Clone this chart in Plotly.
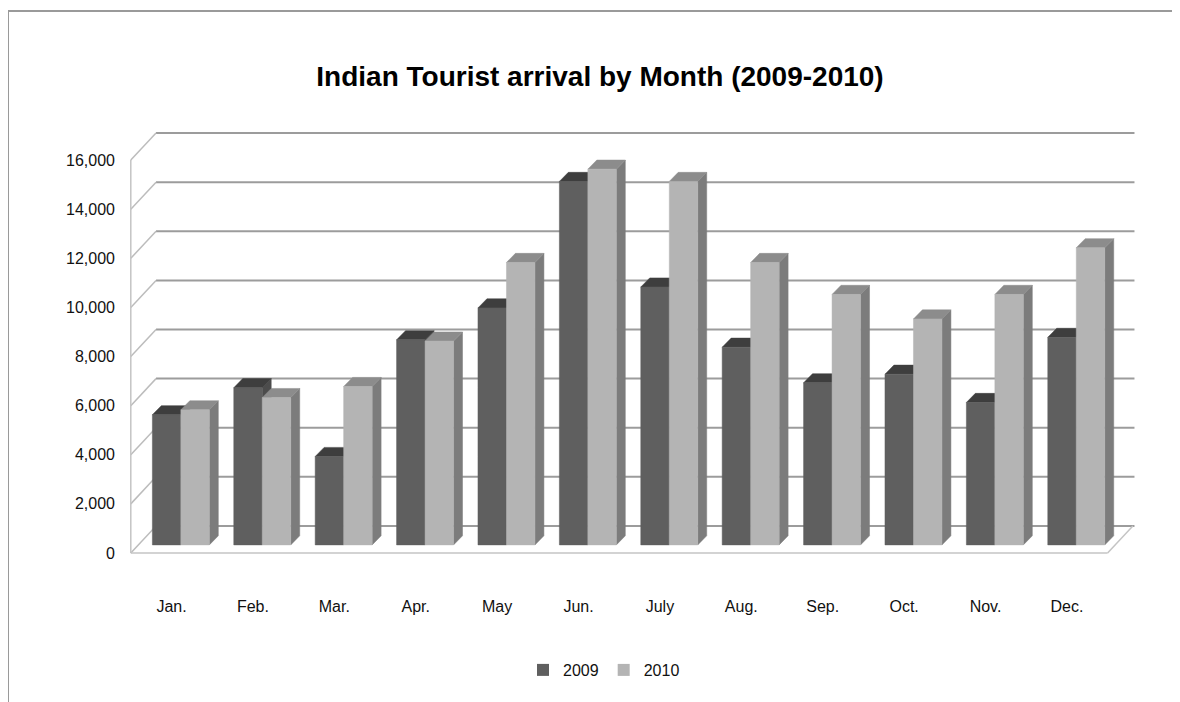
import plotly.graph_objects as go

# ---------------- data ----------------
months = ["Jan.", "Feb.", "Mar.", "Apr.", "May", "Jun.", "July", "Aug.", "Sep.", "Oct.", "Nov.", "Dec."]
arrivals_2009 = [5300, 6400, 3600, 8350, 9650, 14800, 10500, 8050, 6600, 6950, 5800, 8450]
arrivals_2010 = [5500, 6000, 6450, 8300, 11500, 15300, 14800, 11500, 10200, 9200, 10200, 12100]
y_ticks = [0, 2000, 4000, 6000, 8000, 10000, 12000, 14000, 16000]
series_names = ["2009", "2010"]

# ---------------- style / geometry (axis units) ----------------
FONT = "Liberation Sans Narrow, Arial Narrow, Liberation Sans, Arial, sans-serif"
front_colors = ["#5f5f5f", "#b4b4b4"]
cap_colors = ["#3e3e3e", "#8c8c8c"]
side_colors = ["#4c4c4c", "#7c7c7c"]

X0, X1 = -0.5, 11.5            # front plane extent
WALL_DX, WALL_DY = 0.31, 1100  # back wall offset (perspective)
BAR_DX, BAR_DY = 0.115, 330    # bar front plane offset
DEPTH_DX, DEPTH_DY = 0.11, 370 # bar depth
BAR_W = 0.35

OFF = 8  # page body margin offset


def to_path(polys):
    xs, ys = [], []
    for pts in polys:
        for x, y in pts:
            xs.append(x)
            ys.append(y)
        xs.append(pts[0][0])
        ys.append(pts[0][1])
        xs.append(None)
        ys.append(None)
    return xs, ys


def seg_path(segs):
    xs, ys = [], []
    for (xa, ya), (xb, yb) in segs:
        xs += [xa, xb, None]
        ys += [ya, yb, None]
    return xs, ys


fig = go.Figure()

# back wall gridlines
gx, gy = seg_path([((X0 + WALL_DX, v + WALL_DY), (X1 + WALL_DX + 0.02, v + WALL_DY)) for v in y_ticks])
fig.add_trace(go.Scatter(x=gx, y=gy, mode="lines", line=dict(color="#9c9c9c", width=2),
                         hoverinfo="skip", showlegend=False))
# side wall diagonals
dx_, dy_ = seg_path([((X0, v), (X0 + WALL_DX, v + WALL_DY)) for v in y_ticks])
fig.add_trace(go.Scatter(x=dx_, y=dy_, mode="lines", line=dict(color="#bcbcbc", width=1.5),
                         hoverinfo="skip", showlegend=False))
# front-left edge and floor
ex, ey = seg_path([((X0, y_ticks[0]), (X0, y_ticks[-1])),
                   ((X0, y_ticks[0]), (X1, y_ticks[0])),
                   ((X1, y_ticks[0]), (X1 + WALL_DX, y_ticks[0] + WALL_DY))])
fig.add_trace(go.Scatter(x=ex, y=ey, mode="lines", line=dict(color="#c4c4c4", width=1.5),
                         hoverinfo="skip", showlegend=False))

# 3D-looking bars
for s, vals in enumerate([arrivals_2009, arrivals_2010]):
    fronts, caps, sides = [], [], []
    for i, v in enumerate(vals):
        l = i + BAR_DX - BAR_W + s * BAR_W
        r = l + BAR_W
        b = BAR_DY
        t = BAR_DY + v
        fronts.append([(l, b), (r, b), (r, t), (l, t)])
        caps.append([(l, t), (r, t), (r + DEPTH_DX, t + DEPTH_DY), (l + DEPTH_DX, t + DEPTH_DY)])
        sides.append([(r, b), (r + DEPTH_DX, b + DEPTH_DY), (r + DEPTH_DX, t + DEPTH_DY), (r, t)])
    for polys, col in [(sides, side_colors[s]), (caps, cap_colors[s]), (fronts, front_colors[s])]:
        px, py = to_path(polys)
        fig.add_trace(go.Scatter(x=px, y=py, mode="lines", fill="toself", fillcolor=col,
                                 line=dict(color=col, width=0.5), hoverinfo="skip",
                                 showlegend=False))

# legend entries
for s, name in enumerate(series_names):
    fig.add_trace(go.Bar(x=[None], y=[None], name=name,
                         marker=dict(color=front_colors[s], line=dict(width=0))))

# plot area in screen pixels: x 125..1165, y 100..575  (minus page offset)
L = 125 - OFF
R = 1180 - (1165 - OFF)
T = 100 - OFF
B = 702 - (575 - OFF)
W, H = 1180 - L - R, 702 - T - B

fig.update_layout(
    width=1180, height=702,
    margin=dict(l=L, r=R, t=T, b=B),
    paper_bgcolor="white", plot_bgcolor="white",
    title=dict(text="Indian Tourist arrival by Month (2009-2010)",
               font=dict(family=FONT, size=28, color="#000000", weight="bold"),
               x=(600 - OFF) / 1180, xanchor="center", xref="container",
               y=1 - (76 - OFF) / 702, yanchor="middle", yref="container"),
    xaxis=dict(range=[-0.5713, 12.205], tickvals=list(range(len(months))), ticktext=months,
               showgrid=False, zeroline=False, showline=False, ticks="",
               ticklabelstandoff=20, tickfont=dict(family=FONT, size=16, color="#111111"),
               fixedrange=True),
    yaxis=dict(range=[-896, 18445], tickvals=y_ticks, tickformat=",",
               showgrid=False, zeroline=False, showline=False, ticks="",
               ticklabelstandoff=9, tickfont=dict(family=FONT, size=16, color="#111111"),
               fixedrange=True),
    legend=dict(orientation="h", x=(604 - OFF) / 1180, xanchor="center", xref="container",
                y=1 - (670 - OFF) / 702, yanchor="middle", yref="container",
                font=dict(family=FONT, size=16, color="#111111"), itemwidth=30),
    showlegend=True,
    shapes=[dict(type="path", xref="paper", yref="paper",
                 path=f"M {(8 - OFF - L) / W} {-0.5} L {(8 - OFF - L) / W} {(702 - B - (11 - OFF)) / H} "
                      f"L {(1200 - L) / W} {(702 - B - (11 - OFF)) / H}",
                 line=dict(color="#9a9a9a", width=2))],
)

fig.write_html("out.html")
